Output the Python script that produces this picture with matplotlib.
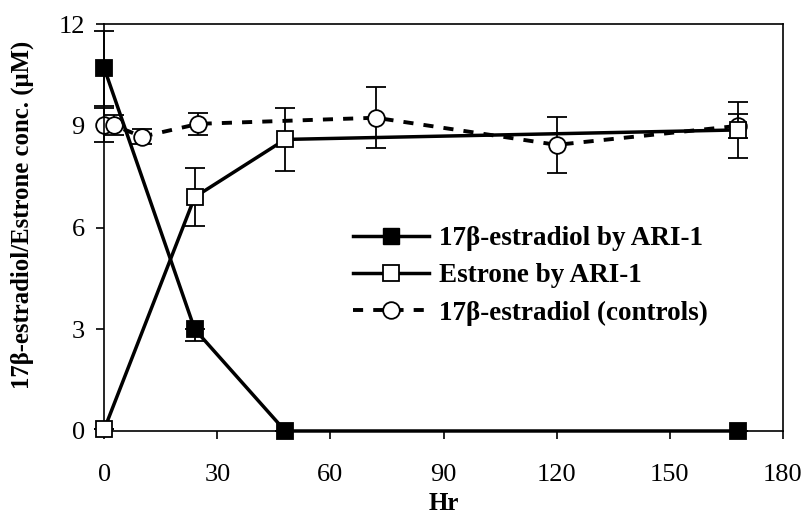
import numpy as np
import matplotlib.pyplot as plt
from matplotlib.lines import Line2D

plt.rcParams['font.family'] = ['Liberation Serif', 'DejaVu Serif']

# 17b-estradiol degraded by ARI-1
e2_hr = [0, 24, 48, 168]
e2_conc = [10.7, 3.0, 0.0, 0.0]
e2_err_lo = [1.1, 0.35, 0.0, 0.0]
e2_err_hi = [1.1, 0.0, 0.0, 0.0]

# estrone produced by ARI-1
e1_hr = [0, 24, 48, 168]
e1_conc = [0.05, 6.9, 8.6, 8.88]
e1_err = [0.0, 0.85, 0.93, 0.83]

# 17b-estradiol controls
ctl_hr = [0, 2.5, 10, 25, 72, 120, 168]
ctl_conc = [9.02, 9.02, 8.68, 9.06, 9.24, 8.44, 9.0]
ctl_err = [0.5, 0.3, 0.22, 0.33, 0.9, 0.82, 0.35]

dash = (0, (2.6, 2.6))

fig = plt.figure(figsize=(8.08, 5.14), dpi=100)
ax = fig.add_axes([0.129, 0.1615, 0.84, 0.7915])

kw = dict(ecolor='black', elinewidth=1.3, capsize=7, capthick=1.3, mec='black', mew=1.3, clip_on=False)
ax.errorbar(ctl_hr, ctl_conc, yerr=ctl_err, color='black', lw=2.8, ls=dash,
            marker='o', ms=12, mfc='white', zorder=2, **kw)
ax.errorbar(e1_hr, e1_conc, yerr=e1_err, color='black', lw=2.5,
            marker='s', ms=11, mfc='white', zorder=3, **kw)
ax.errorbar(e2_hr, e2_conc, yerr=[e2_err_lo, e2_err_hi], color='black', lw=2.5,
            marker='s', ms=11, mfc='black', zorder=4, **kw)

ax.set_xlim(0, 180)
ax.set_ylim(0, 12)
ax.set_xticks(np.arange(0, 181, 30))
ax.set_yticks(np.arange(0, 13, 3))
ax.tick_params(labelsize=19, length=6, width=1.2, direction='out')
ax.tick_params(axis='x', pad=18)
ax.tick_params(axis='y', pad=8)
for s in ax.spines.values():
    s.set_linewidth(1.2)

ax.set_xlabel('Hr', fontsize=18, fontweight='bold', labelpad=4)
ax.set_ylabel('17β-estradiol/Estrone conc. (μM)', fontsize=17.8, fontweight='bold')
ax.yaxis.set_label_coords(-0.103, 0.531)

handles = [
    Line2D([], [], color='black', lw=2.5, marker='s', ms=12, mfc='black', mec='black'),
    Line2D([], [], color='black', lw=2.5, marker='s', ms=12, mfc='white', mec='black', mew=1.3),
    Line2D([], [], color='black', lw=2.8, ls=dash, marker='o', ms=12, mfc='white', mec='black', mew=1.3),
]
labels = ['17β-estradiol by ARI-1', 'Estrone by ARI-1', '17β-estradiol (controls)']
ax.legend(handles, labels, loc='center left', bbox_to_anchor=(0.367, 0.381), frameon=False,
          borderpad=0, borderaxespad=0, handlelength=2.8, prop={'weight': 'bold', 'size': 19.5},
          labelspacing=0.45, handletextpad=0.36)

fig.savefig('out.png', dpi=100)
